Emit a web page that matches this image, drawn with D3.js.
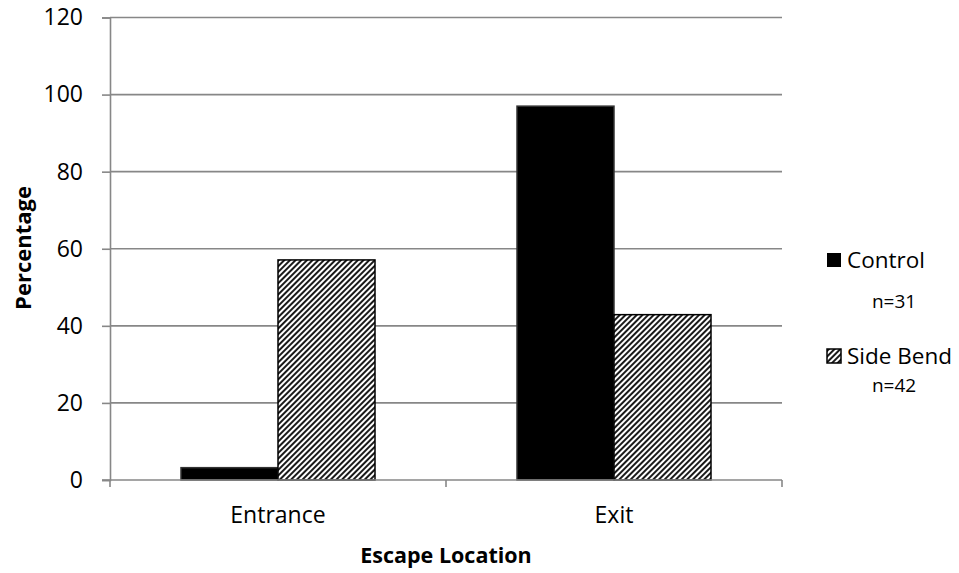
<!DOCTYPE html>
<html><head><meta charset="utf-8">
<script src="https://cdn.jsdelivr.net/npm/d3@7"></script>
<style>body{margin:0;background:#fff}svg{display:block}text{font-family:"Open Sans",sans-serif;fill:#000}</style>
</head><body>
<svg id="c" width="959" height="573"></svg>
<script>
const categories = ["Entrance", "Exit"];
const seriesNames = ["Control", "Side Bend"];
const seriesN = ["n=31", "n=42"];
const control = [3.2, 97.0];
const sideBend = [57.1, 42.9];
const yTicks = [0, 20, 40, 60, 80, 100, 120];
const seriesValues = [control, sideBend];

const svg = d3.select("#c");
const m = {left: 110, right: 782, top: 17.5, bottom: 480};

const defs = svg.append("defs");
const pat = defs.append("pattern").attr("id","hatch").attr("patternUnits","userSpaceOnUse")
  .attr("width",4).attr("height",4).attr("patternTransform","rotate(45)");
pat.append("rect").attr("width",4).attr("height",4).attr("fill","#fff");
pat.append("rect").attr("width",2).attr("height",4).attr("fill","#1a1a1a");

const x = d3.scaleBand().domain(categories).range([m.left, m.right]).padding(0);
const xs = d3.scaleBand().domain(seriesNames).range([0, x.bandwidth()]).paddingInner(0).paddingOuter(0.732);
const y = d3.scaleLinear().domain([0, 120]).range([m.bottom, m.top]);

// gridlines
svg.append("g").selectAll("line").data(yTicks.filter(d=>d>0)).join("line")
  .attr("x1", m.left).attr("x2", m.right).attr("y1", d=>y(d)).attr("y2", d=>y(d))
  .attr("stroke","#878787").attr("stroke-width",1.6);

// bars
const fills = ["#000", "url(#hatch)"];
seriesNames.forEach((s, si) => {
  svg.append("g").selectAll("rect").data(categories).join("rect")
    .attr("x", c => x(c) + xs(s))
    .attr("width", xs.bandwidth())
    .attr("y", (c, i) => y(seriesValues[si][i]))
    .attr("height", (c, i) => y(0) - y(seriesValues[si][i]))
    .attr("fill", fills[si])
    .attr("stroke", si === 0 ? "#333" : "#000")
    .attr("stroke-width", 1.5);
});

// y axis
const yAxis = d3.axisLeft(y).tickValues(yTicks).tickSize(8).tickPadding(19);
const gy = svg.append("g").attr("transform",`translate(${m.left},0)`).call(yAxis);
gy.select(".domain").attr("stroke","#878787").attr("stroke-width",1.6);
gy.selectAll(".tick line").attr("stroke","#878787").attr("stroke-width",1.6);
gy.selectAll(".tick text").style("font-size","23px").style("font-family","'Open Sans',sans-serif").attr("fill","#000");

// x axis
const xEdge = d3.scaleLinear().domain([0, categories.length]).range([m.left, m.right]);
const gx = svg.append("g").attr("transform",`translate(0,${m.bottom})`);
gx.append("line").attr("x1", m.left - 8).attr("x2", m.right).attr("stroke","#878787").attr("stroke-width",1.6);
gx.selectAll("line.tk").data(d3.range(categories.length+1)).join("line").attr("class","tk")
  .attr("x1", d=>xEdge(d)).attr("x2", d=>xEdge(d)).attr("y1",0).attr("y2",7)
  .attr("stroke","#878787").attr("stroke-width",1.6);
gx.selectAll("text").data(categories).join("text")
  .attr("x", c => x(c) + x.bandwidth()/2).attr("y", 43)
  .attr("text-anchor","middle").style("font-size","23px").text(d=>d);

// axis titles
svg.append("text").attr("x", (m.left+m.right)/2).attr("y", 563)
  .attr("text-anchor","middle").style("font-size","21.5px").style("font-weight","bold").text("Escape Location");
svg.append("text").attr("transform","translate(31,248) rotate(-90)")
  .attr("text-anchor","middle").style("font-size","22px").style("font-weight","bold").text("Percentage");

// legend
const lg = svg.append("g");
const legY = [253, 349];
seriesNames.forEach((s, i) => {
  lg.append("rect").attr("x", 827).attr("y", legY[i]).attr("width", 14).attr("height", 14)
    .attr("fill", fills[i]).attr("stroke","#000").attr("stroke-width", i===0?0:1.5);
  lg.append("text").attr("x", 847).attr("y", legY[i] + 15).style("font-size","22.5px").text(s);
});
lg.append("text").attr("x", 894).attr("y", 308).attr("text-anchor","middle").style("font-size","19px").text(seriesN[0]);
lg.append("text").attr("x", 894).attr("y", 392).attr("text-anchor","middle").style("font-size","19px").text(seriesN[1]);
</script>
</body></html>
